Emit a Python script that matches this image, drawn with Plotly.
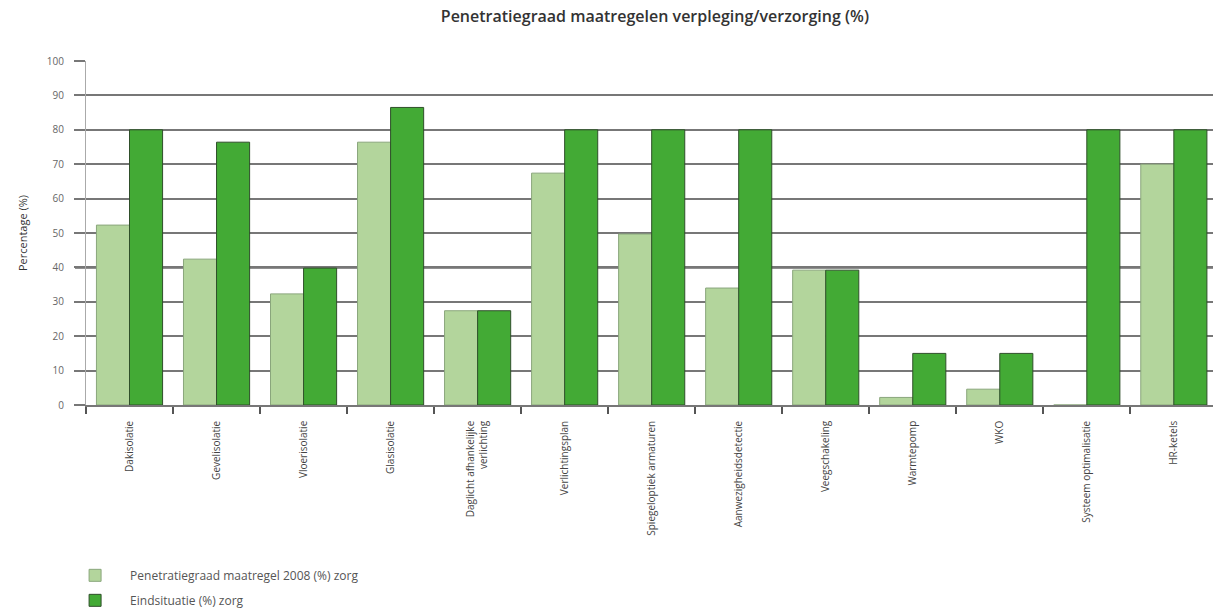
import plotly.graph_objects as go

categories = [
    "Dakisolatie", "Gevelisolatie", "Vloerisolatie", "Glasisolatie",
    "Daglicht afhankelijke<br>verlichting", "Verlichtingsplan",
    "Spiegeloptiek armaturen", "Aanwezigheidsdetectie", "Veegschakeling",
    "Warmtepomp", "WKO", "Systeem optimalisatie", "HR-ketels",
]
penetratie_2008 = [52.3, 42.4, 32.3, 76.4, 27.4, 67.4, 49.7, 34.0, 39.2, 2.2, 4.6, 0, 70.0]
eindsituatie = [80, 76.4, 39.8, 86.5, 27.4, 80, 80, 80, 39.2, 15, 15, 80, 80]
y_ticks = [0, 10, 20, 30, 40, 50, 60, 70, 80, 90, 100]

LIGHT = "#b3d59c"
DARK = "#43aa35"

fig = go.Figure()
fig.add_trace(go.Bar(
    x=categories, y=penetratie_2008, name="Penetratiegraad maatregel 2008 (%) zorg",
    marker=dict(color=LIGHT, line=dict(color="#8aa67c", width=1)),
    legendgroup="a",
))
fig.add_trace(go.Bar(
    x=categories, y=eindsituatie, name="Eindsituatie (%) zorg",
    marker=dict(color=DARK, line=dict(color="#2f4f2a", width=1)),
    legendgroup="b",
))

fig.add_shape(type="line", xref="paper", yref="y", x0=-0.0098, x1=1, y0=40, y1=40,
              line=dict(color="#222222", width=2), layer="below")

fig.update_layout(
    width=1215, height=612,
    margin=dict(l=86, r=2, t=61, b=207, autoexpand=False),
    paper_bgcolor="white", plot_bgcolor="white",
    barmode="group", bargap=0.24, bargroupgap=0,
    font=dict(family="Open Sans, sans-serif", color="#444444"),
    title=dict(text="Penetratiegraad maatregelen verpleging/verzorging (%)",
               x=0.539, xanchor="center", y=0.974, yanchor="middle",
               font=dict(size=16, color="#333333", weight=600)),
    showlegend=True,
    legend=dict(orientation="v", x=-0.023, xanchor="left", y=-0.453, yanchor="top",
                font=dict(size=12, color="#555555"), tracegroupgap=6,
                itemwidth=60, traceorder="grouped"),
    xaxis=dict(
        type="category", range=[-0.5, 12.45],
        tickson="boundaries", ticks="outside", ticklen=7, tickcolor="#555555", tickwidth=1.5,
        tickangle=-90, tickfont=dict(size=10, color="#444444"),
        ticklabelstandoff=10,
        showline=True, linecolor="#777777", linewidth=1.5,
        showgrid=False,
    ),
    yaxis=dict(
        range=[0, 100], tickvals=y_ticks, ticks="outside", ticklen=11,
        tickcolor="#777777", tickwidth=1.5,
        tickfont=dict(size=10, color="#666666"), ticklabelstandoff=8,
        showgrid=True, gridcolor="#777777", gridwidth=1.5,
        zeroline=False,
        showline=True, linecolor="#aaaaaa", linewidth=1,
        title=dict(text="Percentage (%)", font=dict(size=11, color="#333333"), standoff=16),
    ),
)

fig.write_html("out.html")
